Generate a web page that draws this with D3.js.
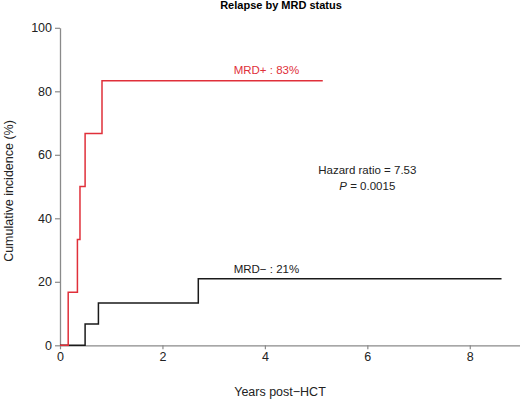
<!DOCTYPE html>
<html>
<head>
<meta charset="utf-8">
<script src="https://cdn.jsdelivr.net/npm/d3@7"></script>
<style>
  body { margin: 0; background: #fff; }
  svg { display: block; font-family: "Liberation Sans", Arial, sans-serif; }
</style>
</head>
<body>
<div id="chart"></div>
<script>
// step times (years) and cumulative incidence (%) after each step
var mrdPosTimes = [0, 0.16, 0.34, 0.39, 0.49, 0.82, 5.13];
var mrdPosValues = [0, 16.7, 33.3, 50, 66.7, 83.3, 83.3];
var mrdNegTimes = [0, 0.49, 0.75, 2.70, 8.62];
var mrdNegValues = [0, 6.67, 13.3, 21, 21];
var xTicks = [0, 2, 4, 6, 8];
var yTicks = [0, 20, 40, 60, 80, 100];

var width = 520, height = 399;
var svg = d3.select("#chart").append("svg")
  .attr("width", width).attr("height", height);

var x = d3.scaleLinear().domain([0, 9]).range([60, 521]);
var y = d3.scaleLinear().domain([0, 100]).range([345.3, 27.8]);

// axes
var xAxis = svg.append("g").attr("transform", "translate(0," + y(0) + ")")
  .call(d3.axisBottom(x).tickValues(xTicks).tickSize(4).tickPadding(3).tickSizeOuter(0));
var yAxis = svg.append("g").attr("transform", "translate(" + x(0) + ",0)")
  .call(d3.axisLeft(y).tickValues(yTicks).tickSize(5).tickPadding(3).tickSizeOuter(0));

[xAxis, yAxis].forEach(function(a) {
  a.select(".domain").attr("stroke", "#8a8a8a").attr("stroke-width", 1.3);
  a.selectAll(".tick line").attr("stroke", "#8a8a8a").attr("stroke-width", 1.2);
  a.selectAll(".tick text").attr("fill", "#222").style("font-size", "12.5px");
});

// curves
var line = d3.line().x(function(d) { return x(d[0]); }).y(function(d) { return y(d[1]); })
  .curve(d3.curveStepAfter);

svg.append("path")
  .datum(d3.zip(mrdNegTimes, mrdNegValues))
  .attr("d", line).attr("fill", "none").attr("stroke", "#1a1a1a").attr("stroke-width", 1.5);

svg.append("path")
  .datum(d3.zip(mrdPosTimes, mrdPosValues))
  .attr("d", line).attr("fill", "none").attr("stroke", "#e0303a").attr("stroke-width", 1.5);

// labels
svg.append("text").attr("x", x(4.03)).attr("y", y(83.3) - 6.5)
  .attr("text-anchor", "middle").attr("fill", "#e0303a").style("font-size", "11.5px")
  .text("MRD+ : 83%");
svg.append("text").attr("x", x(4.03)).attr("y", y(21) - 6)
  .attr("text-anchor", "middle").attr("fill", "#1a1a1a").style("font-size", "11.5px")
  .text("MRD\u2212 : 21%");

var hr = svg.append("text").attr("x", x(6.0)).attr("text-anchor", "middle")
  .attr("fill", "#222").style("font-size", "11.5px");
hr.append("tspan").attr("x", x(6.0)).attr("y", 174).text("Hazard ratio = 7.53");
var p = hr.append("tspan").attr("x", x(6.0)).attr("y", 190);
p.append("tspan").style("font-style", "italic").text("P");
p.append("tspan").text(" = 0.0015");

svg.append("text").attr("x", 281).attr("y", 9)
  .attr("text-anchor", "middle").attr("fill", "#000")
  .style("font-size", "11px").style("font-weight", "bold")
  .text("Relapse by MRD status");

svg.append("text").attr("x", 280).attr("y", 396)
  .attr("text-anchor", "middle").attr("fill", "#222").style("font-size", "12.5px")
  .text("Years post\u2212HCT");

svg.append("text").attr("transform", "translate(13,191) rotate(-90)")
  .attr("text-anchor", "middle").attr("fill", "#222").style("font-size", "12.5px")
  .text("Cumulative incidence (%)");
</script>
</body>
</html>
